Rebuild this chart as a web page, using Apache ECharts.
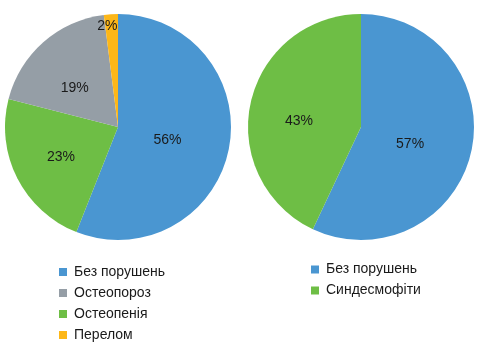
<!DOCTYPE html>
<html>
<head>
<meta charset="utf-8">
<script src="https://cdn.jsdelivr.net/npm/echarts@6/dist/echarts.min.js"></script>
<style>
  html, body { margin: 0; padding: 0; background: #fff; }
  #main { width: 478px; height: 354px; }
</style>
</head>
<body>
<div id="main"></div>
<script>
// ліва діаграма (порядок секторів за годинниковою стрілкою)
const leftNames = ['Без порушень', 'Остеопенія', 'Остеопороз', 'Перелом'];
const leftValues = [56, 23, 19, 2];
const leftLegend = ['Без порушень', 'Остеопороз', 'Остеопенія', 'Перелом'];

// права діаграма
const rightNames = ['Без порушень', 'Синдесмофіти'];
const rightValues = [57, 43];

const colors = {
  'Без порушень': '#4A96D1',
  'Остеопенія': '#6EBE45',
  'Остеопороз': '#959EA6',
  'Перелом': '#FDB718',
  'Синдесмофіти': '#6EBE45'
};

// зсув підписів відносно стандартного положення
const leftOffsets = [[-9, 2], [-4, 3], [-4, 6], [-7, -41]];
const rightOffsets = [[-9, 4], [-4, 7]];

const font = '"Liberation Sans", Arial, sans-serif';

function makeData(names, values, offsets) {
  return names.map((n, i) => ({
    name: n,
    value: values[i],
    itemStyle: {color: colors[n]},
    label: {offset: offsets[i]}
  }));
}

let chart = echarts.init(document.getElementById('main'));

let pieLabel = {
  show: true,
  position: 'inside',
  formatter: '{c}%',
  color: '#1a1a1a',
  fontSize: 14,
  fontFamily: font
};

let legendText = {fontSize: 14, fontFamily: font, color: '#1a1a1a', lineHeight: 16, padding: [0, 0, 0, 2]};

let option = {
  animation: false,
  legend: [
    {
      data: leftLegend,
      orient: 'vertical',
      left: 59,
      top: 264,
      height: 100,
      padding: 0,
      icon: 'rect',
      itemWidth: 8,
      itemHeight: 8,
      itemGap: 5,
      textStyle: legendText
    },
    {
      data: rightNames,
      orient: 'vertical',
      left: 311,
      top: 261.5,
      height: 100,
      padding: 0,
      icon: 'rect',
      itemWidth: 8,
      itemHeight: 8,
      itemGap: 5,
      textStyle: legendText
    }
  ],
  series: [
    {
      name: 'left',
      type: 'pie',
      center: [118, 127],
      radius: 113,
      startAngle: 90,
      clockwise: true,
      label: pieLabel,
      labelLine: {show: false},
      emphasis: {disabled: true},
      data: makeData(leftNames, leftValues, leftOffsets)
    },
    {
      name: 'right',
      type: 'pie',
      center: [361, 127],
      radius: 113,
      startAngle: 90,
      clockwise: true,
      label: pieLabel,
      labelLine: {show: false},
      emphasis: {disabled: true},
      data: makeData(rightNames, rightValues, rightOffsets)
    }
  ]
};

chart.setOption(option);
</script>
</body>
</html>
